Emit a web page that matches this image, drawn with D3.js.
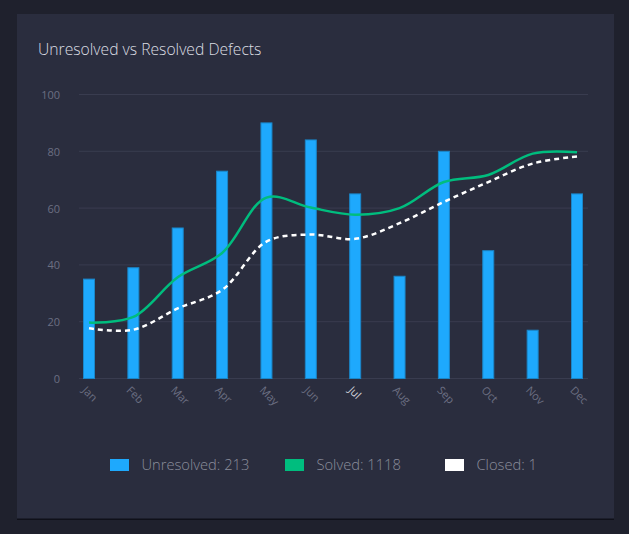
<!DOCTYPE html>
<html>
<head>
<meta charset="utf-8">
<script src="https://cdn.jsdelivr.net/npm/d3@7/dist/d3.min.js"></script>
<style>
  html, body { margin: 0; padding: 0; background: #1f212d; }
  svg { display: block; }
</style>
</head>
<body>
<svg id="chart" width="629" height="534"></svg>
<script>
// ---- data ----
const months = ["Jan","Feb","Mar","Apr","May","Jun","Jul","Aug","Sep","Oct","Nov","Dec"];
const unresolved = [35, 39, 53, 73, 90, 84, 65, 36, 80, 45, 17, 65];
const solved = [19.5, 21.5, 35.5, 44, 63.5, 60, 57.5, 59.8, 69, 71.5, 79, 79.5];
const closed = [17.5, 17, 24.5, 31, 48, 50.5, 49, 54.5, 62, 69, 75.5, 78];
const yTicks = [0, 20, 40, 60, 80, 100];
const legendLabels = ["Unresolved: 213", "Solved: 1118", "Closed: 1"];
const colors = ["#1ea9fd", "#00bd7e", "#ffffff"];

const svg = d3.select("#chart");
const font = "'Open Sans', Lato, sans-serif";

// card
svg.append("rect").attr("x", 17).attr("y", 15.5).attr("width", 597).attr("height", 504.5).attr("fill", "#0f1019");
svg.append("rect").attr("x", 17).attr("y", 14).attr("width", 597).attr("height", 504.5).attr("fill", "#2a2d3e");

// title
svg.append("text").attr("x", 38).attr("y", 55)
  .attr("font-family", font).attr("font-size", 15.7).attr("font-weight", 300)
  .attr("fill", "#dcdde3").text("Unresolved vs Resolved Defects");

const plotL = 79, plotR = 588, plotT = 94, plotB = 378;
const x = d3.scalePoint().domain(months).range([89, 577]);
const y = d3.scaleLinear().domain([0, 100]).range([plotB, plotT]);

// grid
svg.append("g").selectAll("line").data(yTicks).join("line")
  .attr("x1", plotL).attr("x2", plotR)
  .attr("y1", d => y(d) + 0.5).attr("y2", d => y(d) + 0.5)
  .attr("stroke", "#393c4f").attr("stroke-width", 1);

// y axis labels
const yAxis = d3.axisLeft(y).tickValues(yTicks).tickSize(0).tickPadding(0);
const gy = svg.append("g").attr("transform", `translate(60,1)`).call(yAxis);
gy.select(".domain").remove();
gy.selectAll("text").attr("font-family", font).attr("font-size", 11)
  .attr("fill", "#6c6f82");

// x axis labels
const xAxis = d3.axisBottom(x).tickSize(0).tickPadding(0);
const gx = svg.append("g").attr("transform", `translate(0,${plotB})`).call(xAxis);
gx.select(".domain").remove();
gx.selectAll("text")
  .attr("font-family", font).attr("font-size", 11)
  .attr("fill", d => d === "Jul" ? "#d0d1d8" : "#6c6f82")
  .attr("text-anchor", "start")
  .attr("dy", null).attr("y", 0)
  .attr("transform", "translate(-8,13) rotate(45)");

// bars
const bw = 12;
svg.append("g").selectAll("rect").data(unresolved).join("rect")
  .attr("x", (d, i) => x(months[i]) - bw / 2 + 0.5)
  .attr("y", d => y(d) + 0.5)
  .attr("width", bw - 1)
  .attr("height", d => y(0) - y(d))
  .attr("fill", colors[0])
  .attr("stroke", "#1a86c8").attr("stroke-width", 1);

// lines
const line = d3.line().x((d, i) => x(months[i])).y(d => y(d)).curve(d3.curveCatmullRom.alpha(0.5));
svg.append("path").datum(solved).attr("d", line)
  .attr("fill", "none").attr("stroke", colors[1]).attr("stroke-width", 2.5);
svg.append("path").datum(closed).attr("d", line)
  .attr("fill", "none").attr("stroke", colors[2]).attr("stroke-width", 2.5)
  .attr("stroke-dasharray", "5,4");

// legend
const legendX = [110, 285, 445];
const lg = svg.append("g").selectAll("g").data(legendLabels).join("g")
  .attr("transform", (d, i) => `translate(${legendX[i]},459)`);
lg.append("rect").attr("width", 19).attr("height", 12)
  .attr("fill", (d, i) => colors[i]);
lg.append("text").attr("x", 31.5).attr("y", 11)
  .attr("font-family", font).attr("font-size", 14.7).attr("font-weight", 300)
  .attr("fill", "#8b8d9c").text(d => d);
</script>
</body>
</html>
